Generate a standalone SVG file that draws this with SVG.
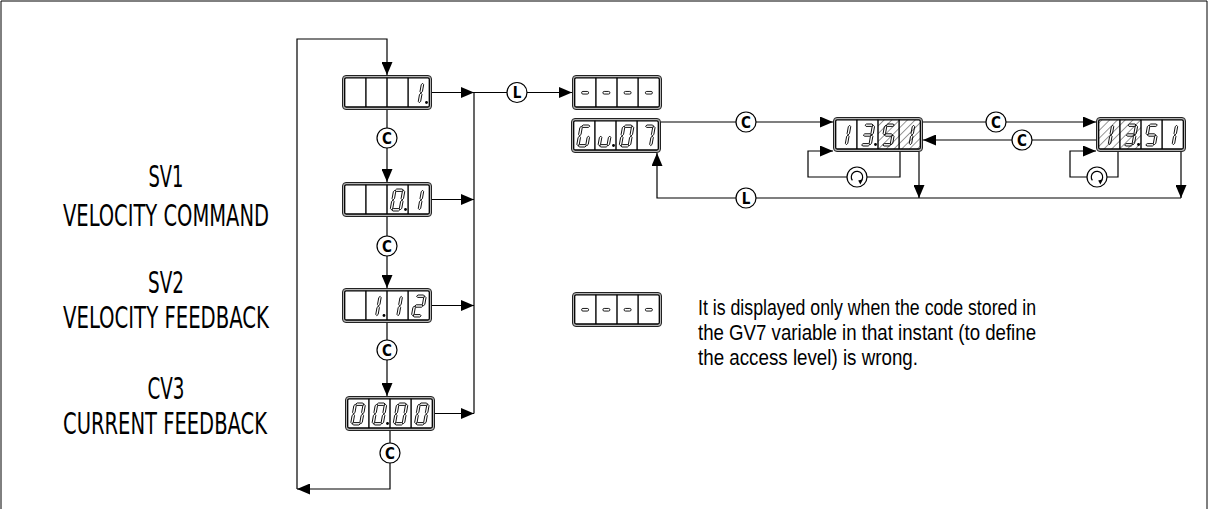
<svg xmlns="http://www.w3.org/2000/svg" xmlns:xlink="http://www.w3.org/1999/xlink" width="1208" height="509" viewBox="0 0 1208 509">
<style>
.ln{fill:none;stroke:#000;stroke-width:1.2}
.ar{marker-end:url(#ah)}
.cir{fill:#fff;stroke:#000;stroke-width:1.2}
.cl{font-family:'DejaVu Sans Condensed','DejaVu Sans','Liberation Sans',sans-serif;font-stretch:condensed;font-size:15px;font-weight:bold;text-anchor:middle}
.lab{font-family:'DejaVu Sans Condensed','DejaVu Sans','Liberation Sans',sans-serif;font-stretch:condensed;font-size:30px;text-anchor:middle;fill:#000}
.par{font-family:'Liberation Sans',sans-serif;font-size:22px;fill:#000}
.dp{fill:#000}
</style>
<defs>
<marker id="ah" markerUnits="userSpaceOnUse" markerWidth="13" markerHeight="11" refX="13" refY="5.5" orient="auto">
<path d="M0,0 L13,5.5 L0,11 z" fill="#000"/>
</marker>
<pattern id="hatch" patternUnits="userSpaceOnUse" width="5.5" height="5.5" patternTransform="rotate(45)">
<line x1="0" y1="0" x2="0" y2="5.5" stroke="#000" stroke-width="0.8"/>
</pattern>
<g id="frame">
<rect x="0.5" y="0.5" width="89" height="34" rx="3.5" fill="#b4b4b4" stroke="#222" stroke-width="1"/>
<rect x="2.7" y="2.8" width="84.6" height="29.2" rx="1.5" fill="#fff" stroke="#000" stroke-width="1.3"/>
</g>
<g id="divs" stroke="#000" stroke-width="1.4">
<line x1="23.9" y1="2.8" x2="23.9" y2="32"/>
<line x1="45" y1="2.8" x2="45" y2="32"/>
<line x1="66.1" y1="2.8" x2="66.1" y2="32"/>
</g>
<path id="sh" d="M0,0 l1.2,-1.2 h5.6 l1.2,1.2 l-1.2,1.2 h-5.6 z"/>
<path id="sv" d="M0,0 l1.2,1.2 v7 l-1.2,1.2 l-1.2,-1.2 v-7 z"/>
<g id="d0" transform="skewX(-10)" fill="none" stroke="#000" stroke-width="0.9">
<use href="#sh" x="0.5" y="1.2"/><use href="#sv" x="9" y="1.4"/><use href="#sv" x="9" y="11.2"/><use href="#sh" x="0.5" y="20.8"/><use href="#sv" x="0" y="11.2"/><use href="#sv" x="0" y="1.4"/>
</g>
<g id="d1" transform="skewX(-10)" fill="none" stroke="#000" stroke-width="0.9">
<use href="#sv" x="9" y="1.4"/><use href="#sv" x="9" y="11.2"/>
</g>
<g id="d2" transform="skewX(-10)" fill="none" stroke="#000" stroke-width="0.9">
<use href="#sh" x="0.5" y="1.2"/><use href="#sv" x="9" y="1.4"/><use href="#sh" x="0.5" y="11"/><use href="#sv" x="0" y="11.2"/><use href="#sh" x="0.5" y="20.8"/>
</g>
<g id="d3" transform="skewX(-10)" fill="none" stroke="#000" stroke-width="0.9">
<use href="#sh" x="0.5" y="1.2"/><use href="#sv" x="9" y="1.4"/><use href="#sh" x="0.5" y="11"/><use href="#sv" x="9" y="11.2"/><use href="#sh" x="0.5" y="20.8"/>
</g>
<g id="d5" transform="skewX(-10)" fill="none" stroke="#000" stroke-width="0.9">
<use href="#sh" x="0.5" y="1.2"/><use href="#sv" x="0" y="1.4"/><use href="#sh" x="0.5" y="11"/><use href="#sv" x="9" y="11.2"/><use href="#sh" x="0.5" y="20.8"/>
</g>
<g id="d7" transform="skewX(-10)" fill="none" stroke="#000" stroke-width="0.9">
<use href="#sh" x="0.5" y="1.2"/><use href="#sv" x="9" y="1.4"/><use href="#sv" x="9" y="11.2"/>
</g>
<g id="dG" transform="skewX(-10)" fill="none" stroke="#000" stroke-width="0.9">
<use href="#sh" x="0.5" y="1.2"/><use href="#sv" x="0" y="1.4"/><use href="#sv" x="0" y="11.2"/><use href="#sh" x="0.5" y="20.8"/><use href="#sv" x="9" y="11.2"/>
</g>
<g id="du" transform="skewX(-10)" fill="none" stroke="#000" stroke-width="0.9">
<use href="#sv" x="0" y="11.2"/><use href="#sh" x="0.5" y="20.8"/><use href="#sv" x="9" y="11.2"/>
</g>
<rect id="dash" x="-3.5" y="-1.3" width="7" height="2.6" rx="1.3" fill="none" stroke="#000" stroke-width="0.9"/>
<g id="rot">
<circle r="10" fill="#fff" stroke="#000" stroke-width="1.2"/>
<path d="M-4.6,3.4 A5.7,5.7 0 1 1 3.6,4.4" fill="none" stroke="#000" stroke-width="1.2"/>
<path d="M6,2.2 L3.4,7.4 L1.2,3.4 z" fill="#000"/>
</g>
</defs>

<rect x="0" y="0" width="1208" height="509" fill="#fff"/>
<path d="M1,509 V1 H1207 V509" fill="none" stroke="#000" stroke-width="1"/>

<g id="labels">
<text class="lab" x="166" y="187" textLength="35" lengthAdjust="spacingAndGlyphs">SV1</text>
<text class="lab" x="166" y="226" textLength="206" lengthAdjust="spacingAndGlyphs">VELOCITY COMMAND</text>
<text class="lab" x="166" y="293" textLength="36" lengthAdjust="spacingAndGlyphs">SV2</text>
<text class="lab" x="166" y="328" textLength="206" lengthAdjust="spacingAndGlyphs">VELOCITY FEEDBACK</text>
<text class="lab" x="166" y="399" textLength="37" lengthAdjust="spacingAndGlyphs">CV3</text>
<text class="lab" x="165" y="434" textLength="204" lengthAdjust="spacingAndGlyphs">CURRENT FEEDBACK</text>
</g>

<g id="connectors">
<path class="ln ar" d="M297,489 V39 H387 V75"/>
<path class="ln ar" d="M390,431 V489 H297"/>
<path class="ln ar" d="M387,110 V182"/>
<path class="ln ar" d="M387,217 V288"/>
<path class="ln ar" d="M387,323 V396"/>
<path class="ln ar" d="M432,92.5 H474"/>
<path class="ln ar" d="M432,199.5 H474"/>
<path class="ln ar" d="M432,305.5 H474"/>
<path class="ln ar" d="M435,413.5 H474"/>
<path class="ln" d="M474,92.5 V413.5"/>
<path class="ln ar" d="M474,92.5 H572"/>
<path class="ln ar" d="M661,122 H833"/>
<path class="ln ar" d="M923,122 H1096"/>
<path class="ln ar" d="M1096,140 H923"/>
<path class="ln ar" d="M900,152 V177 H808 V151 H833"/>
<path class="ln ar" d="M1118,152 V177 H1070 V151 H1096"/>
<path class="ln ar" d="M919,152 V198"/>
<path class="ln ar" d="M1181,152 V198"/>
<path class="ln ar" d="M1181,198 H657 V153"/>
<g id="key-c1"><circle class="cir" cx="387" cy="138" r="10"/><text class="cl" x="387" y="143.5">C</text></g>
<g id="key-c2"><circle class="cir" cx="387" cy="246" r="10"/><text class="cl" x="387" y="251.5">C</text></g>
<g id="key-c3"><circle class="cir" cx="387" cy="350" r="10"/><text class="cl" x="387" y="355.5">C</text></g>
<g id="key-c4"><circle class="cir" cx="390" cy="453" r="10"/><text class="cl" x="390" y="458.5">C</text></g>
<g id="key-l1"><circle class="cir" cx="517" cy="92.5" r="10"/><text class="cl" x="517" y="98">L</text></g>
<g id="key-c5"><circle class="cir" cx="746" cy="122" r="10"/><text class="cl" x="746" y="127.5">C</text></g>
<g id="key-c6"><circle class="cir" cx="996" cy="122" r="10"/><text class="cl" x="996" y="127.5">C</text></g>
<g id="key-c7"><circle class="cir" cx="1022" cy="140" r="10"/><text class="cl" x="1022" y="145.5">C</text></g>
<g id="key-l2"><circle class="cir" cx="746" cy="198" r="10"/><text class="cl" x="746" y="203.5">L</text></g>
<use href="#rot" x="857" y="177"/>
<use href="#rot" x="1097" y="177"/>
</g>

<g id="disp1">
<use href="#frame" x="342" y="75"/>
<use href="#divs" x="342" y="75"/>
<use href="#d1" x="413.9" y="82"/>
<circle class="dp" cx="426.5" cy="102.5" r="1.4"/>
</g>
<g id="disp2">
<use href="#frame" x="342" y="182"/>
<use href="#divs" x="342" y="182"/>
<use href="#d0" x="395" y="189"/>
<circle class="dp" cx="405.5" cy="209.5" r="1.4"/>
<use href="#d1" x="413.9" y="189"/>
</g>
<g id="disp3">
<use href="#frame" x="342" y="288"/>
<use href="#divs" x="342" y="288"/>
<use href="#d1" x="371.4" y="295"/>
<circle class="dp" cx="384" cy="315.5" r="1.4"/>
<use href="#d1" x="392.6" y="295"/>
<use href="#d2" x="416.3" y="295"/>
</g>
<g id="disp4">
<use href="#frame" x="345" y="396"/>
<use href="#divs" x="345" y="396"/>
<use href="#d0" x="355.5" y="403"/>
<use href="#d0" x="376.8" y="403"/>
<circle class="dp" cx="387.5" cy="423.5" r="1.4"/>
<use href="#d0" x="398" y="403"/>
<use href="#d0" x="419.3" y="403"/>
</g>
<g id="disp-dash-top">
<use href="#frame" x="572" y="75"/>
<use href="#divs" x="572" y="75"/>
<use href="#dash" x="585.1" y="92.75"/>
<use href="#dash" x="606.4" y="92.75"/>
<use href="#dash" x="627.6" y="92.75"/>
<use href="#dash" x="648.9" y="92.75"/>
</g>
<g id="disp-gu07">
<use href="#frame" x="571" y="118"/>
<use href="#divs" x="571" y="118"/>
<use href="#dG" x="581.5" y="125"/>
<use href="#du" x="602.8" y="125"/>
<circle class="dp" cx="613.5" cy="145.5" r="1.4"/>
<use href="#d0" x="624" y="125"/>
<use href="#d7" x="645.3" y="125"/>
</g>
<g id="disp-r1">
<use href="#frame" x="833" y="117"/>
<rect x="878" y="119.8" width="42.3" height="29.2" fill="url(#hatch)"/>
<use href="#divs" x="833" y="117"/>
<use href="#d1" x="841" y="124"/>
<use href="#d3" x="864.8" y="124"/>
<circle class="dp" cx="875.5" cy="144.5" r="1.4"/>
<use href="#d5" x="886" y="124"/>
<use href="#d1" x="904.9" y="124"/>
</g>
<g id="disp-r2">
<use href="#frame" x="1096" y="117"/>
<rect x="1098.7" y="119.8" width="42.3" height="29.2" fill="url(#hatch)"/>
<use href="#divs" x="1096" y="117"/>
<use href="#d1" x="1104" y="124"/>
<use href="#d3" x="1127.8" y="124"/>
<circle class="dp" cx="1138.5" cy="144.5" r="1.4"/>
<use href="#d5" x="1149" y="124"/>
<use href="#d1" x="1167.9" y="124"/>
</g>
<g id="disp-dash-key">
<use href="#frame" x="572" y="292"/>
<use href="#divs" x="572" y="292"/>
<use href="#dash" x="585.1" y="309.75"/>
<use href="#dash" x="606.4" y="309.75"/>
<use href="#dash" x="627.6" y="309.75"/>
<use href="#dash" x="648.9" y="309.75"/>
</g>

<g id="note">
<text class="par" x="698" y="315" textLength="338" lengthAdjust="spacingAndGlyphs">It is displayed only when the code stored in</text>
<text class="par" x="698" y="340" textLength="338" lengthAdjust="spacingAndGlyphs">the GV7 variable in that instant (to define</text>
<text class="par" x="698" y="365" textLength="220" lengthAdjust="spacingAndGlyphs">the access level) is wrong.</text>
</g>
</svg>
